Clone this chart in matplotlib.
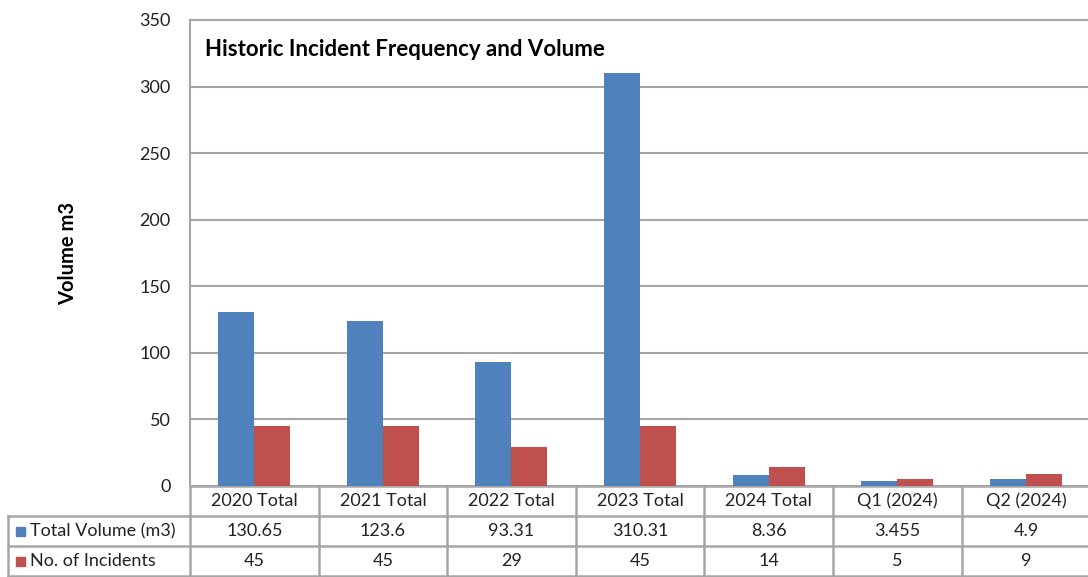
import matplotlib.pyplot as plt
import matplotlib.transforms as mtransforms
import numpy as np

categories = ["2020 Total", "2021 Total", "2022 Total", "2023 Total",
              "2024 Total", "Q1 (2024)", "Q2 (2024)"]
volume = [130.65, 123.6, 93.31, 310.31, 8.36, 3.455, 4.9]
incidents = [45, 45, 29, 45, 14, 5, 9]
volume_labels = ["130.65", "123.6", "93.31", "310.31", "8.36", "3.455", "4.9"]
incident_labels = ["45", "45", "29", "45", "14", "5", "9"]
series_names = ["Total Volume (m3)", "No. of Incidents"]

blue = "#4f81bd"
red = "#c0504d"
grid_col = "#a6a6a6"
W, H = 1088, 577

plt.rcParams["font.family"] = ["Lato", "DejaVu Sans"]

fig = plt.figure(figsize=(W / 100, H / 100), dpi=100)
ax = fig.add_axes([190 / W, 1 - 486 / H, 1 - 190 / W + 0.002, (486 - 20) / H])

x = np.arange(len(categories))
bw = 0.28
ax.bar(x - bw / 2, volume, bw, color=blue, zorder=3)
ax.bar(x + bw / 2, incidents, bw, color=red, zorder=3)

ax.set_xlim(-0.5, len(categories) - 0.5)
ax.set_ylim(0, 350)
ax.set_yticks(np.arange(0, 351, 50))
ax.yaxis.grid(True, color=grid_col, linewidth=1.5, zorder=0)
ax.tick_params(axis="y", length=0, labelsize=13, pad=14, colors="#222222")
ax.set_xticks([])
for s in ["right", "bottom"]:
    ax.spines[s].set_visible(False)
for s in ["left", "top"]:
    ax.spines[s].set_color(grid_col)
    ax.spines[s].set_linewidth(1.5)

ax.set_ylabel("Volume m3", fontsize=14.5, fontweight="bold", labelpad=44)
ax.text(15 / (W - 190), 1 - 29 / 466, "Historic Incident Frequency and Volume",
        transform=ax.transAxes, fontsize=16, fontweight="bold", va="center")

# data table under the plot
tr = mtransforms.blended_transform_factory(ax.transData, fig.transFigure)
rows_y = [1 - 486 / H, 1 - 516 / H, 1 - 546 / H, 1 - 577 / H + 0.001]
lw = 1.8
for yy in rows_y:
    ax.plot([-0.5, len(categories)], [yy, yy], transform=tr, color=grid_col,
            lw=lw, clip_on=False)
for i in range(len(categories) + 1):
    ax.plot([i - 0.5, i - 0.5], [rows_y[0], 0], transform=tr, color=grid_col,
            lw=lw, clip_on=False)
# left column
lx0 = 8 / W
for yy in rows_y[1:]:
    fig.add_artist(plt.Line2D([lx0, 190 / W], [yy, yy], color=grid_col, lw=lw))
fig.add_artist(plt.Line2D([lx0, lx0], [rows_y[1], 0], color=grid_col, lw=lw))

for i, c in enumerate(categories):
    ax.text(i, (rows_y[0] + rows_y[1]) / 2, c, transform=tr, ha="center",
            va="center", fontsize=13, color="#222222")
    ax.text(i, (rows_y[1] + rows_y[2]) / 2, volume_labels[i], transform=tr,
            ha="center", va="center", fontsize=13, color="#222222")
    ax.text(i, (rows_y[2] + rows_y[3]) / 2, incident_labels[i], transform=tr,
            ha="center", va="center", fontsize=13, color="#222222")

for name, col, y0, y1 in [(series_names[0], blue, rows_y[1], rows_y[2]),
                          (series_names[1], red, rows_y[2], rows_y[3])]:
    ym = (y0 + y1) / 2
    fig.add_artist(plt.Rectangle((16 / W, ym - 4.5 / H), 9 / W, 9 / H,
                                 color=col))
    fig.text(30 / W, ym, name, ha="left", va="center", fontsize=13,
             color="#222222")

fig.savefig("out.png", dpi=100)
